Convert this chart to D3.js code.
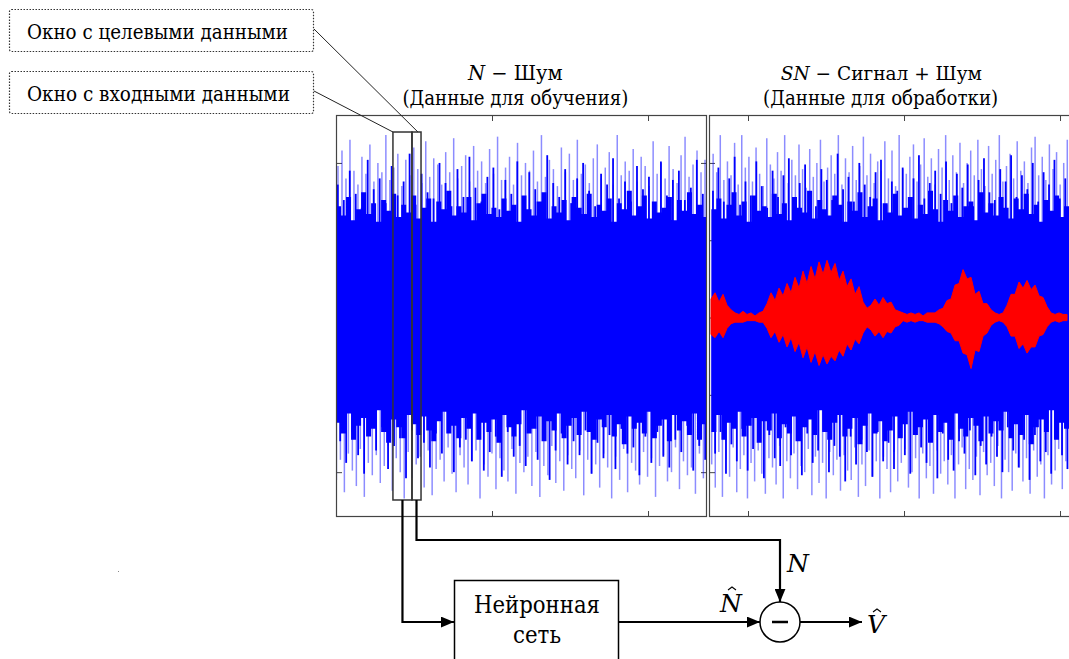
<!DOCTYPE html>
<html>
<head>
<meta charset="utf-8">
<script src="https://cdn.jsdelivr.net/npm/d3@7"></script>
<style>
  body { margin: 0; background: #fff; }
</style>
</head>
<body>
<div id="chart"></div>
<script>
var width = 1069;
var height = 659;
var serif = 'DejaVu Serif';

// noise spikes, left panel (N - training noise): light tips and dark strands
var lightUpL = [0.98,1.08,0.90,1.15,0.95,0.86,1.04,0.93,1.12,0.88,1.00,0.94,1.18,0.89,0.97,1.06,0.85,1.02,0.92,1.10,0.96,0.87,1.14,0.91,1.03,0.99,0.86,1.07,0.94,1.16,0.90,0.98,1.05,0.88,1.11,0.95,1.01,0.87,1.09,0.93,1.17,0.89,0.97,1.04,0.86,1.13,0.92,1.00,0.95,1.08,0.88,1.18,0.91,1.02,0.96,0.85,1.10,0.94,1.06,0.89,1.15,0.93,0.99,0.87,1.03,1.12,0.90,0.97,1.07,0.86,1.18,0.92,1.01,0.95,1.09,0.88,1.04,0.98,0.85,1.14,0.93,1.00,0.90,1.11,0.96,0.87,1.05,1.17,0.91,0.99,1.08,0.94,1.02];
var lightDnL = [1.05,0.92,1.13,0.88,0.99,1.09,0.85,1.16,0.94,1.02,0.89,1.07,0.96,0.83,1.12,0.91,1.00,1.17,0.87,1.04,0.95,0.90,1.10,0.86,1.15,0.98,0.92,1.06,0.84,1.01,1.13,0.89,0.97,1.08,0.93,0.86,1.17,0.95,1.03,0.88,1.11,0.91,0.99,1.06,0.85,1.14,0.94,1.00,0.90,1.09,0.87,1.16,0.96,1.02,0.83,1.07,0.93,1.12,0.89,0.98,1.04,0.86,1.15,0.92,1.01,0.95,1.10,0.88,0.97,1.17,0.90,1.05,0.85,1.13,0.94,0.99,1.08,0.87,1.03,0.91,1.16,0.96,0.89,1.06,1.00,0.84,1.11,0.93,1.02,0.97,1.14,0.88,1.04];
var darkUpL = [0.86,0.76,0.95,0.80,0.71,1.02,0.83,0.90,0.74,0.98,0.79,0.88,1.06,0.73,0.93,0.81,0.77,1.00,0.87,0.72,0.96,0.78,1.04,0.84,0.75,0.91,0.97,0.70,0.89,0.80,1.01,0.76,0.94,0.83,0.73,1.05,0.87,0.78,0.96,0.74,0.90,1.00,0.82,0.72,0.93,0.86,1.03,0.77,0.88,0.75,0.98,0.83,0.91,0.71,1.01,0.79,0.89,0.95,0.76,0.84,1.02,0.80];
var darkDnL = [0.80,0.94,0.74,0.89,1.01,0.76,0.86,0.71,0.98,0.83,0.78,1.04,0.73,0.91,0.81,0.97,0.75,0.88,0.70,1.00,0.84,0.79,0.93,0.72,0.99,0.87,0.77,1.03,0.74,0.90,0.83,0.96,0.71,0.92,0.78,1.05,0.86,0.75,0.95,0.80,0.89,0.73,1.01,0.81,0.91,0.76,0.98,0.72,0.88,0.84,1.02,0.77,0.94,0.74,0.90,0.97,0.79,0.87,0.70,0.99,0.83,0.92];
// ragged edge of the dense band
var coreUpL = [0.72,0.66,0.78,0.63,0.70,0.81,0.67,0.74,0.62,0.76,0.69,0.80,0.65,0.73,0.68,0.79,0.64,0.71,0.77,0.62,0.75,0.70,0.82,0.66,0.72,0.68,0.78,0.63,0.74,0.80,0.67,0.71,0.65,0.77,0.69,0.73,0.62,0.79,0.70,0.66,0.75,0.81,0.64,0.72,0.68,0.76,0.63,0.78,0.71,0.67,0.80,0.65,0.73,0.69,0.77,0.62,0.74,0.70,0.82,0.66,0.72,0.79,0.64,0.75,0.68,0.71,0.78,0.63,0.76,0.69,0.81,0.67,0.73,0.65,0.77];
var coreDnL = [0.68,0.75,0.62,0.79,0.70,0.65,0.77,0.72,0.60,0.74,0.81,0.66,0.71,0.78,0.63,0.69,0.76,0.64,0.73,0.80,0.67,0.61,0.75,0.70,0.78,0.65,0.72,0.62,0.79,0.68,0.74,0.66,0.81,0.63,0.71,0.77,0.69,0.60,0.75,0.72,0.64,0.80,0.67,0.73,0.62,0.78,0.70,0.65,0.76,0.61,0.74,0.79,0.66,0.71,0.63,0.77,0.69,0.82,0.64,0.72,0.68,0.75,0.61,0.78,0.70,0.66,0.80,0.63,0.73,0.67,0.76,0.62,0.79,0.69,0.74];

// noise spikes, right panel (SN - signal + noise)
var lightUpR = [1.06,0.94,1.18,0.89,1.01,0.92,1.13,0.86,1.18,0.97,1.04,0.88,1.10,0.93,0.85,1.16,0.99,0.90,1.07,0.95,1.18,0.87,1.02,0.92,1.12,0.96,0.84,1.09,0.91,1.00,1.15,0.88,0.97,1.05,0.93,1.18,0.86,1.03,0.94,1.11,0.89,0.98,1.17,0.92,1.06,0.87,1.01,0.95,1.14,0.90,1.08,0.85,1.18,0.96,0.93,1.04,1.12,0.88,0.99,1.16,0.91,1.03,0.86,1.09,0.97,1.18,0.89,1.05,0.94,1.13,0.87,1.00,1.08,0.92,1.15,0.96,0.85,1.11,0.93,1.02,1.18,0.88,0.98,1.06,0.90,1.14,0.95,1.01,0.87,1.10,1.17,0.92,1.04,0.89,1.12,0.96,1.07,0.86,1.00,1.15];
var lightDnR = [0.95,1.10,0.87,1.16,0.92,1.03,0.84,1.13,0.98,0.89,1.17,0.94,1.06,0.86,1.01,1.14,0.91,0.97,1.08,0.83,1.17,0.93,1.04,0.88,1.11,0.96,1.00,0.85,1.15,0.90,1.07,0.94,1.17,0.87,1.02,0.92,1.12,0.89,0.99,1.05,0.84,1.16,0.95,1.09,0.86,1.03,0.93,1.17,0.90,0.98,1.13,0.87,1.06,0.94,0.85,1.10,1.00,0.91,1.17,0.88,1.04,0.96,1.14,0.86,1.01,0.93,1.08,0.89,1.17,0.95,0.84,1.11,0.98,1.05,0.90,1.15,0.87,1.02,0.94,1.09,0.83,1.17,0.92,1.00,1.12,0.88,0.97,1.06,0.91,1.14,0.86,1.03,0.95,1.17,0.89,1.08,0.99,0.85,1.11,0.93];
var darkUpR = [0.82,0.97,0.75,0.90,1.04,0.73,0.88,0.79,1.01,0.85,0.71,0.95,0.78,0.92,1.03,0.74,0.87,0.99,0.81,0.72,0.96,0.89,0.76,1.06,0.83,0.91,0.75,1.00,0.86,0.78,0.94,1.02,0.73,0.88,0.82,0.97,0.70,0.90,1.05,0.77,0.87,0.95,0.80,1.01,0.74,0.93,0.84,0.99,0.72,0.89,1.03,0.81,0.76,0.96,0.88,1.05,0.78,0.92,0.83,1.00,0.75,0.94,0.86,1.02,0.77,0.90];
var darkDnR = [0.88,0.74,1.01,0.82,0.93,0.72,0.99,0.85,0.78,1.04,0.76,0.91,0.96,0.71,0.89,0.80,1.02,0.75,0.94,0.86,0.73,1.00,0.83,0.90,1.06,0.77,0.95,0.79,0.87,1.03,0.74,0.93,0.81,0.98,0.72,0.89,1.01,0.76,0.84,0.94,0.78,1.04,0.75,0.92,0.99,0.80,0.88,0.73,1.02,0.83,0.95,0.77,0.90,1.00,0.71,0.86,0.97,0.79,1.05,0.76,0.93,0.87,1.01,0.74,0.89,0.98];
var coreUpR = [0.70,0.77,0.64,0.73,0.81,0.66,0.75,0.62,0.79,0.69,0.72,0.65,0.80,0.67,0.74,0.63,0.78,0.71,0.68,0.82,0.64,0.76,0.70,0.66,0.79,0.73,0.62,0.75,0.69,0.81,0.65,0.72,0.77,0.63,0.74,0.68,0.80,0.66,0.71,0.78,0.64,0.73,0.67,0.82,0.70,0.62,0.76,0.69,0.79,0.65,0.72,0.75,0.63,0.81,0.68,0.74,0.66,0.78,0.71,0.64,0.77,0.70,0.80,0.67,0.73,0.62,0.76,0.69,0.79,0.65,0.72,0.75];
var coreDnR = [0.74,0.63,0.79,0.68,0.72,0.61,0.77,0.70,0.65,0.81,0.67,0.73,0.62,0.78,0.69,0.75,0.64,0.80,0.71,0.66,0.76,0.60,0.74,0.79,0.68,0.63,0.77,0.72,0.65,0.82,0.70,0.62,0.75,0.67,0.80,0.73,0.64,0.78,0.69,0.61,0.76,0.71,0.66,0.81,0.63,0.74,0.68,0.79,0.62,0.72,0.77,0.65,0.70,0.80,0.64,0.75,0.67,0.73,0.61,0.78,0.69,0.76,0.63,0.82,0.71,0.66,0.74,0.60,0.79,0.68,0.72,0.77];

// red speech signal envelope (right panel)
var redTop = [.12,.16,.10,.15,.08,.05, .03,.02,.04,.02,.03,.01,.03,.04,
  .09,.16,.11,.19,.14,.22,.16,.26,.19,.30,.22,.33,.25,.36,.28,.37,.29,.35,.24,.30,.20,.25,.15,.20,.10,.06,
  .08,.12,.08,.13,.09,.10,.05,.04, .03,.02,.03,.02,.03,.01,.03,.03,.03,.05,
  .06,.11,.12,.21,.22,.31,.25,.26,.15,.17,.09,.09,.05, .03,.02,.03,
  .08,.15,.15,.23,.19,.24,.18,.21,.14,.13,.07, .03,.02,.03,.02,.02];
var redBot = [-.11,-.13,-.09,-.13,-.07,-.04, -.03,-.03,-.03,-.02,-.02,-.02,-.03,-.03,
  -.07,-.13,-.09,-.16,-.11,-.19,-.13,-.22,-.16,-.26,-.19,-.29,-.22,-.31,-.24,-.30,-.25,-.28,-.21,-.25,-.17,-.21,-.14,-.17,-.10,-.06,
  -.08,-.12,-.09,-.13,-.09,-.10,-.06,-.05, -.02,-.03,-.02,-.03,-.02,-.02,-.03,-.03,-.03,-.04,
  -.06,-.09,-.10,-.15,-.15,-.23,-.24,-.33,-.21,-.22,-.12,-.10,-.05, -.03,-.02,-.03,
  -.06,-.12,-.12,-.20,-.17,-.23,-.19,-.19,-.12,-.11,-.06, -.03,-.02,-.03,-.02,-.02];

var xTicks = [0, 1, 2];
var yTicks = [-1, -0.5, 0, 0.5, 1];

// sliding windows over the training noise (time units)
var windowIn = [0.365, 0.487];
var windowTarget = [0.487, 0.545];
var windowAmp = [-1.18, 1.20];

var svg = d3.select('#chart')
  .append('svg')
  .attr('width', width)
  .attr('height', height)
  .style('background', '#fff');

var y = d3.scaleLinear().domain([-1.29, 1.31]).range([517, 115]);
var xL = d3.scaleLinear().domain([0, 2.378]).range([336, 707]);
var xR = d3.scaleLinear().domain([-0.25, 2.128]).range([709, 1080]);

var defs = svg.append('defs');
defs.append('marker')
  .attr('id', 'arrow')
  .attr('viewBox', '0 0 12 10')
  .attr('refX', 12).attr('refY', 5)
  .attr('markerUnits', 'userSpaceOnUse')
  .attr('markerWidth', 13).attr('markerHeight', 11)
  .attr('orient', 'auto')
  .append('path')
  .attr('d', 'M0,0L12,5L0,10Z')
  .attr('fill', '#000');

function spikes(g, x, t0, t1, vals, sign, offset, color, opacity, w) {
  var n = vals.length;
  var step = (t1 - t0) / n;
  g.selectAll(null)
    .data(vals)
    .enter().append('line')
    .attr('x1', function(d, i) { return x(t0 + (i + offset) * step); })
    .attr('x2', function(d, i) { return x(t0 + (i + offset) * step); })
    .attr('y1', y(0))
    .attr('y2', function(d) { return y(sign * d); })
    .attr('stroke', color)
    .attr('stroke-opacity', opacity)
    .attr('stroke-width', w);
}

function panel(x, t0, t1, data) {
  var g = svg.append('g');
  var r = x.range();

  // ticks under the data, like matlab
  g.append('g').attr('transform', 'translate(0,115)')
    .call(d3.axisTop(x).tickValues(xTicks).tickSize(-6).tickFormat(''));
  g.append('g').attr('transform', 'translate(0,517)')
    .call(d3.axisBottom(x).tickValues(xTicks).tickSize(-6).tickFormat(''));
  g.append('g').attr('transform', 'translate(' + r[0] + ',0)')
    .call(d3.axisLeft(y).tickValues(yTicks).tickSize(-6).tickFormat(''));
  g.append('g').attr('transform', 'translate(' + r[1] + ',0)')
    .call(d3.axisRight(y).tickValues(yTicks).tickSize(-6).tickFormat(''));
  g.selectAll('.domain').remove();
  g.selectAll('.tick line').attr('stroke', '#444');

  var clip = 'clip' + Math.round(r[0]);
  defs.append('clipPath').attr('id', clip)
    .append('rect').attr('x', r[0]).attr('y', 115).attr('width', r[1] - r[0]).attr('height', 402);
  var d = g.append('g').attr('clip-path', 'url(#' + clip + ')');

  spikes(d, x, t0, t1, data.lightUp, 1, 0.5, '#0000ff', 0.45, 1.5);
  spikes(d, x, t0, t1, data.lightDn, -1, 0.1, '#0000ff', 0.45, 1.5);
  spikes(d, x, t0, t1, data.darkUp, 1, 0.3, '#0000ff', 1, 1.8);
  spikes(d, x, t0, t1, data.darkDn, -1, 0.7, '#0000ff', 1, 1.8);

  var n = data.coreUp.length;
  var core = d3.area()
    .curve(d3.curveStepAfter)
    .x(function(v, i) { return x(t0 + i * (t1 - t0) / (n - 1)); })
    .y0(function(v, i) { return y(-data.coreDn[i]); })
    .y1(function(v) { return y(v); });
  d.append('path').datum(data.coreUp).attr('d', core).attr('fill', '#0000ff');
  return d;
}

panel(xL, 0, 2.378, { lightUp: lightUpL, lightDn: lightDnL, darkUp: darkUpL, darkDn: darkDnL, coreUp: coreUpL, coreDn: coreDnL });
var right = panel(xR, -0.235, 2.058, { lightUp: lightUpR, lightDn: lightDnR, darkUp: darkUpR, darkDn: darkDnR, coreUp: coreUpR, coreDn: coreDnR });

// speech signal on top of the noise
var redT0 = -0.237, redT1 = 2.045;
var redArea = d3.area()
  .x(function(d, i) { return xR(redT0 + i * (redT1 - redT0) / (redTop.length - 1)); })
  .y0(function(d, i) { return y(redBot[i]); })
  .y1(function(d) { return y(d); });
right.append('path')
  .datum(redTop)
  .attr('d', redArea)
  .attr('fill', '#ff0000')
  .attr('stroke', '#ff0000')
  .attr('stroke-width', 1);

// panel frames
[xL, xR].forEach(function(x) {
  var r = x.range();
  svg.append('rect')
    .attr('x', r[0] + 0.5).attr('y', 115.5)
    .attr('width', r[1] - r[0] - 1).attr('height', 401)
    .attr('fill', 'none').attr('stroke', '#444').attr('stroke-width', 1.2);
});

// text helper: size sets the height, len squeezes to the width seen in the original
function label(x, yb, size, anchor, len) {
  var t = svg.append('text').attr('x', x).attr('y', yb)
    .attr('font-family', serif).attr('font-size', size)
    .attr('text-anchor', anchor || 'start').attr('fill', '#000');
  if (len) t.attr('textLength', len).attr('lengthAdjust', 'spacingAndGlyphs');
  return t;
}

// titles
var t1 = label(xL(1.15), 80, 19.5, 'middle');
t1.append('tspan').attr('font-style', 'italic').text('N');
t1.append('tspan').text(' \u2212  Шум');
label(xL(1.15), 105, 21, 'middle', 226).text('(Данные для обучения)');
var t2 = label(xR(0.855), 80, 18.5, 'middle');
t2.append('tspan').attr('font-style', 'italic').text('SN');
t2.append('tspan').text(' \u2212 Сигнал + Шум');
label(xR(0.85), 105, 21, 'middle', 235).text('(Данные для обработки)');

// sliding windows
[windowIn, windowTarget].forEach(function(w) {
  svg.append('rect')
    .attr('x', xL(w[0])).attr('y', y(windowAmp[1]))
    .attr('width', xL(w[1]) - xL(w[0])).attr('height', y(windowAmp[0]) - y(windowAmp[1]))
    .attr('fill', 'none').attr('stroke', '#333').attr('stroke-width', 1.5);
});

// label boxes and leader lines
var labels = [
  { text: 'Окно с целевыми данными', y: 9, len: 261, to: [xL(0.525), y(windowAmp[1])] },
  { text: 'Окно с входными данными', y: 71, len: 263, to: [xL(windowIn[0]), y(windowAmp[1])] }
];
labels.forEach(function(l) {
  svg.append('rect')
    .attr('x', 9.5).attr('y', l.y + 0.5).attr('width', 304).attr('height', 42).attr('rx', 2)
    .attr('fill', 'none').attr('stroke', '#333').attr('stroke-width', 1.2)
    .attr('stroke-dasharray', '1.5,1.5');
  label(27, l.y + 30, 21, 'start', l.len).text(l.text);
  svg.append('line')
    .attr('x1', 314).attr('y1', l.y + 20).attr('x2', l.to[0]).attr('y2', l.to[1])
    .attr('stroke', '#222').attr('stroke-width', 1);
});

// block diagram
var lineY = 622, busY = 540, circX = 780, circR = 20;
var xIn = (xL(windowIn[0]) + xL(windowIn[1])) / 2;
var xTg = (xL(windowTarget[0]) + xL(windowTarget[1])) / 2;
var net = { x: 454, y: 580, w: 164, h: 100 };

function wire(pts, arrow) {
  svg.append('path')
    .attr('d', d3.line()(pts))
    .attr('fill', 'none').attr('stroke', '#000').attr('stroke-width', 2.2)
    .attr('marker-end', arrow ? 'url(#arrow)' : null);
}
wire([[xIn, y(windowAmp[0])], [xIn, lineY], [net.x, lineY]], true);
wire([[xTg, y(windowAmp[0])], [xTg, busY], [circX, busY], [circX, lineY - circR]], true);
wire([[net.x + net.w, lineY], [circX - circR, lineY]], true);
wire([[circX + circR, lineY], [862, lineY]], true);

svg.append('rect')
  .attr('x', net.x + 0.5).attr('y', net.y + 0.5).attr('width', net.w).attr('height', net.h)
  .attr('fill', '#fff').attr('stroke', '#000').attr('stroke-width', 1.5);
label(net.x + net.w / 2 + 1, 613, 24, 'middle', 126).text('Нейронная');
label(net.x + net.w / 2 + 1, 643, 24, 'middle', 48).text('сеть');

svg.append('circle').attr('cx', circX).attr('cy', lineY).attr('r', circR)
  .attr('fill', '#fff').attr('stroke', '#000').attr('stroke-width', 1.5);
svg.append('line').attr('x1', circX - 8).attr('x2', circX + 8).attr('y1', lineY).attr('y2', lineY)
  .attr('stroke', '#000').attr('stroke-width', 2.5);

function hatted(x, yb, s, size, hatY) {
  label(x, yb, size, 'middle').attr('font-style', 'italic').text(s);
  svg.append('path')
    .attr('d', 'M' + (x - 3) + ',' + (hatY + 3) + 'L' + (x + 1) + ',' + hatY + 'L' + (x + 5) + ',' + (hatY + 3))
    .attr('fill', 'none').attr('stroke', '#000').attr('stroke-width', 1.1);
}
label(798, 572, 25, 'middle').attr('font-style', 'italic').text('N');
hatted(731, 612, 'N', 25, 587);
hatted(876, 633, 'V', 25, 609);

// stray dot from the original scan
svg.append('rect').attr('x', 118).attr('y', 571).attr('width', 1).attr('height', 1).attr('fill', '#888');
</script>
</body>
</html>
